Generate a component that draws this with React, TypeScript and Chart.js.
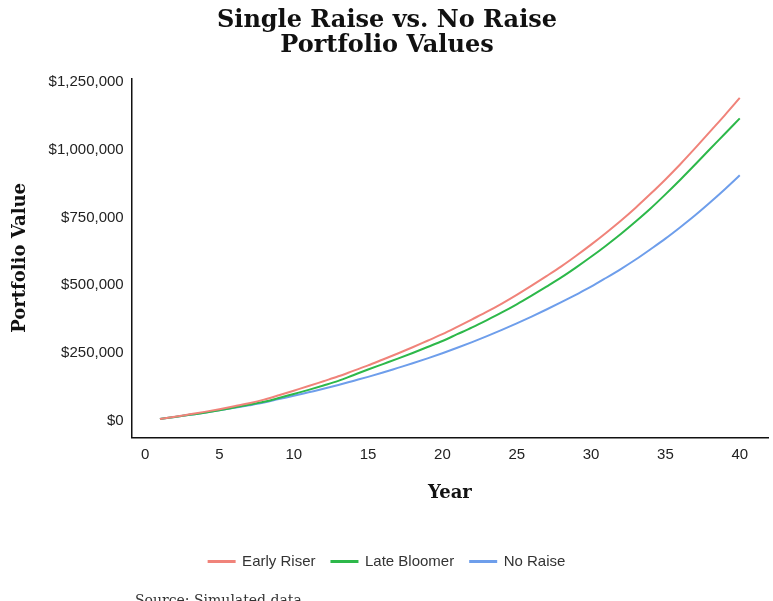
import React, { useEffect, useRef } from "react";
import { Chart, registerables } from "chart.js";
Chart.register(...registerables);

const years = Array.from({ length: 40 }, (_, i) => i + 1);
const earlyRiser = [8,16,25,34,44,55,66,79,95,112,129,147,165,185,205,227,249,272,296,320,347,375,403,433,465,499,534,570,609,650,693,738,786,837,890,946,1005,1066,1127,1190].map(v => v * 1000);
const lateBloomer = [8,15,23,31,40,50,60,71,85,100,115,131,148,169,190,210,230,251,273,295,320,345,372,400,430,462,495,529,566,605,646,689,735,783,835,889,945,1002,1058,1115].map(v => v * 1000);
const noRaise = [8,15,23,31,40,49,58,68,81,93,106,119,133,148,163,179,196,213,231,250,270,291,313,336,360,385,411,438,466,495,527,560,595,633,672,714,758,805,854,905].map(v => v * 1000);
const yTicks = [0, 250000, 500000, 750000, 1000000, 1250000];
const xTicks = [0, 5, 10, 15, 20, 25, 30, 35, 40];

export default function App() {
  const ref = useRef<HTMLCanvasElement>(null);
  useEffect(() => {
    document.body.style.margin = "0";
    const mk = (d: number[]) => years.map((x, i) => ({ x, y: d[i] }));
    const chart = new Chart(ref.current!, {
      type: "line",
      data: {
        datasets: [
          { label: "Early Riser", data: mk(earlyRiser), borderColor: "#F0837A", backgroundColor: "#F0837A" },
          { label: "Late Bloomer", data: mk(lateBloomer), borderColor: "#2DB84A", backgroundColor: "#2DB84A" },
          { label: "No Raise", data: mk(noRaise), borderColor: "#6E9EEB", backgroundColor: "#6E9EEB" },
        ].map(d => ({ ...d, borderWidth: 2, pointRadius: 0, cubicInterpolationMode: "monotone" as const })),
      },
      options: {
        animation: false,
        responsive: false,
        layout: { padding: { left: 6, right: 5, top: 8, bottom: 22 } },
        plugins: {
          title: {
            display: true,
            text: ["Single Raise vs. No Raise", "Portfolio Values"],
            color: "#111",
            font: { family: "DejaVu Serif", size: 24, weight: "bold", lineHeight: 1.05 },
            padding: { top: 0, bottom: 20 },
          },
          legend: {
            position: "bottom",
            labels: { boxWidth: 26, boxHeight: 1, color: "#333", font: { family: "Liberation Sans", size: 15 }, padding: 16 },
          },
          tooltip: { enabled: false },
        },
        scales: {
          x: {
            type: "linear", min: -0.9, max: 41.9,
            afterBuildTicks: (s: any) => { s.ticks = xTicks.map(v => ({ value: v })); },
            grid: { display: false, tickLength: 5 },
            border: { color: "#111", width: 1.5 },
            ticks: { color: "#222", font: { family: "Liberation Sans", size: 15 } },
            title: { display: true, text: "Year", color: "#111", font: { family: "DejaVu Serif", size: 18, weight: "bold" }, padding: { top: 16, bottom: 34 } },
          },
          y: {
            min: -60000, max: 1262000,
            afterBuildTicks: (s: any) => { s.ticks = yTicks.map(v => ({ value: v })); },
            grid: { display: false, tickLength: 5 },
            border: { color: "#111", width: 1.5 },
            ticks: { color: "#222", font: { family: "Liberation Sans", size: 15 }, callback: (v: any) => "$" + Number(v).toLocaleString("en-US") },
            title: { display: true, text: "Portfolio Value", color: "#111", font: { family: "DejaVu Serif", size: 18, weight: "bold" }, padding: { bottom: 14 } },
          },
        },
      },
    });
    return () => chart.destroy();
  }, []);
  return (
    <div style={{ position: "relative", width: 773, height: 601, overflow: "hidden" }}>
      <canvas ref={ref} width={773} height={601} />
      <div style={{ position: "absolute", left: 135, top: 592, fontFamily: "DejaVu Serif", fontSize: 14, color: "#333" }}>Source: Simulated data</div>
    </div>
  );
}
